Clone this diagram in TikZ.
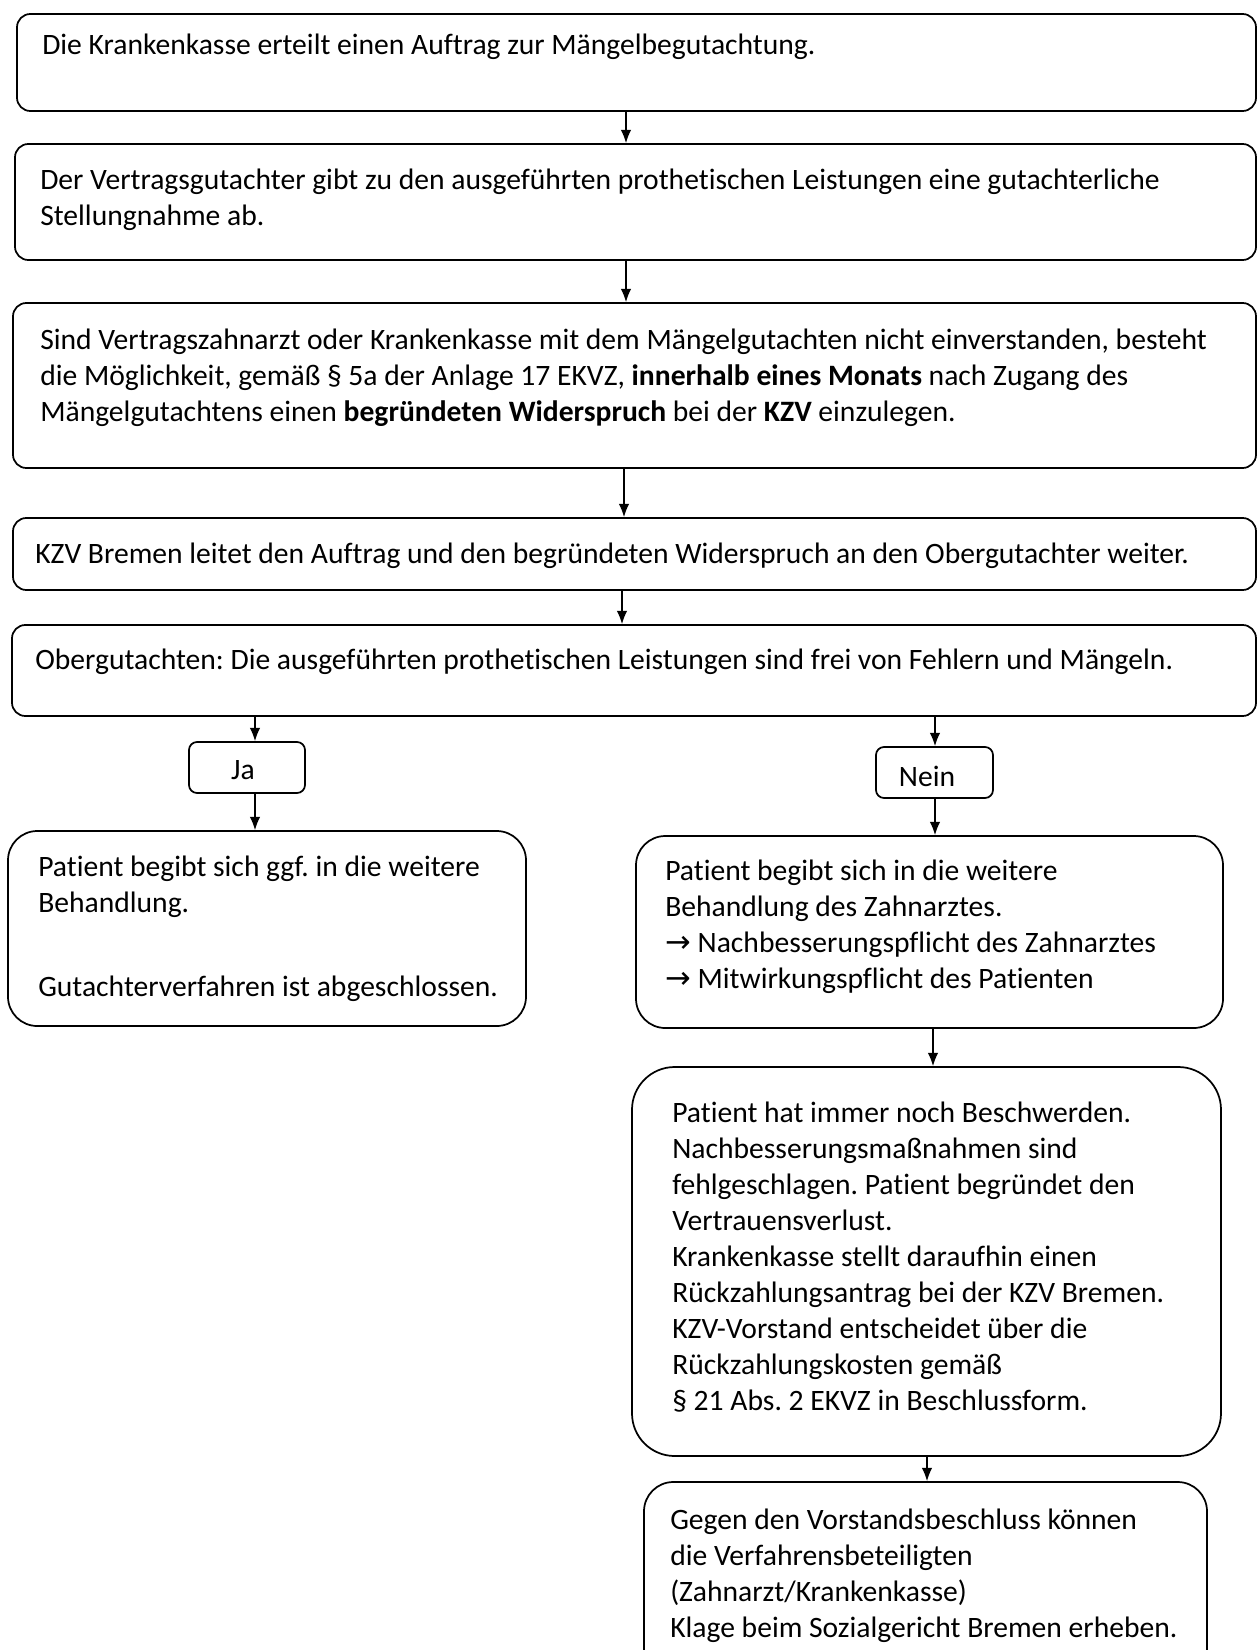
\documentclass[tikz,border=0pt]{standalone}
\usepackage{fontspec}
\setmainfont[Ligatures=NoCommon]{Carlito}
\newfontfamily\symfont{DejaVu Sans}
\newcommand{\myarrow}{{\symfont\fontsize{23}{27}\selectfont →}\ }
\usetikzlibrary{arrows.meta,fit}
\begin{document}
\frenchspacing
\begin{tikzpicture}[x=0.75pt,y=-0.75pt,
  box/.style={draw,line width=1.3pt,rounded corners=10pt,inner sep=0pt},
  txt/.style={anchor=north west,align=left,inner sep=0pt,font=\fontsize{22.2}{27}\selectfont},
  arr/.style={line width=1.1pt,-{Latex[length=10pt,width=8pt]}}]
\useasboundingbox (0,0) rectangle (1258,1650);
% boxes
\node[box,fit={(17,14)(1256,111)}] (b1) {};
\node[box,fit={(15,144)(1256,260)}] (b2) {};
\node[box,fit={(13,303)(1256,468)}] (b3) {};
\node[box,fit={(13,518)(1256,590)}] (b4) {};
\node[box,fit={(12,625)(1256,716)}] (b5) {};
\node[box,rounded corners=6pt,fit={(189,742)(305,793)}] (ja) {};
\node[box,rounded corners=6pt,fit={(876,747)(993,798)}] (nein) {};
\node[box,rounded corners=22pt,fit={(8,831)(526,1026)}] (bl) {};
\node[box,rounded corners=22pt,fit={(636,836)(1223,1028)}] (br) {};
\node[box,rounded corners=32pt,fit={(632,1067)(1221,1456)}] (bb) {};
\node[box,rounded corners=22pt,fit={(644,1482)(1207,1690)}] (bz) {};
% texts
\node[txt] (t1) at (42,29) {\strut Die Krankenkasse erteilt einen Auftrag zur Mängelbegutachtung.};
\node[txt] (t2) at (40,164) {\strut Der Vertragsgutachter gibt zu den ausgeführten prothetischen Leistungen eine gutachterliche\\Stellungnahme ab.};
\node[txt] (t3) at (40,324) {\strut Sind Vertragszahnarzt oder Krankenkasse mit dem Mängelgutachten nicht einverstanden, besteht\\die Möglichkeit, gemäß § 5a der Anlage 17 EKVZ, \textbf{innerhalb eines Monats} nach Zugang des\\Mängelgutachtens einen \textbf{begründeten Widerspruch} bei der \textbf{KZV} einzulegen.};
\node[txt] (t4) at (35,538) {\strut KZV Bremen leitet den Auftrag und den begründeten Widerspruch an den Obergutachter weiter.};
\node[txt] (t5) at (35,644) {\strut Obergutachten: Die ausgeführten prothetischen Leistungen sind frei von Fehlern und Mängeln.};
\node[font=\fontsize{22.2}{27}\selectfont] (tja) at (243,770) {Ja};
\node[font=\fontsize{22.2}{27}\selectfont] (tnein) at (927,776) {Nein};
\node[txt] (tl) at (38,851) {\strut Patient begibt sich ggf. in die weitere\\Behandlung.\\[36pt]Gutachterverfahren ist abgeschlossen.};
\node[txt] (tr) at (665,855) {\strut Patient begibt sich in die weitere\\Behandlung des Zahnarztes.\\\myarrow Nachbesserungspflicht des Zahnarztes\\\myarrow Mitwirkungspflicht des Patienten};
\node[txt] (tb) at (672,1097) {\strut Patient hat immer noch Beschwerden.\\Nachbesserungsmaßnahmen sind\\fehlgeschlagen. Patient begründet den\\Vertrauensverlust.\\Krankenkasse stellt daraufhin einen\\Rückzahlungsantrag bei der KZV Bremen.\\KZV-Vorstand entscheidet über die\\Rückzahlungskosten gemäß\\§ 21 Abs. 2 EKVZ in Beschlussform.};
\node[txt] (tz) at (670,1504) {\strut Gegen den Vorstandsbeschluss können\\die Verfahrensbeteiligten\\(Zahnarzt/Krankenkasse)\\Klage beim Sozialgericht Bremen erheben.};
% arrows
\draw[arr] (b1.south -| 626,0) -- (b2.north -| 626,0);
\draw[arr] (b2.south -| 626,0) -- (b3.north -| 626,0);
\draw[arr] (b3.south -| 624,0) -- (b4.north -| 624,0);
\draw[arr] (b4.south -| 622,0) -- (b5.north -| 622,0);
\draw[arr] (b5.south -| 255,0) -- (ja.north -| 255,0);
\draw[arr] (b5.south -| 935,0) -- (nein.north -| 935,0);
\draw[arr] (ja.south -| 255,0) -- (bl.north -| 255,0);
\draw[arr] (nein.south -| 935,0) -- (br.north -| 935,0);
\draw[arr] (br.south -| 933,0) -- (bb.north -| 933,0);
\draw[arr] (bb.south -| 927,0) -- (bz.north -| 927,0);
\end{tikzpicture}
\end{document}
